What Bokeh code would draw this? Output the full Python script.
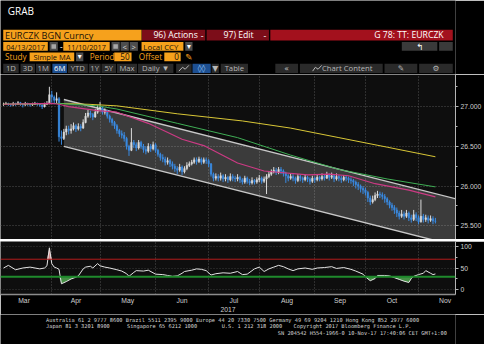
import pandas as pd
from bokeh.plotting import figure
from bokeh.layouts import column
from bokeh.models import (Range1d, FixedTicker, Label, Span, ColumnDataSource,
                          PrintfTickFormatter, Grid)
from bokeh.core.properties import value
from bokeh.embed import file_html
from bokeh.resources import INLINE

# ---------------- data ----------------
dates = pd.bdate_range("2017-03-06", "2017-11-10")   # daily (weekday) bars
first_open = 27.03
close = [27.03, 27.04, 27.03, 27.02, 27.04, 27.03, 27.05, 27.03, 27.02, 27.04,
         27.03, 27.02, 27.03, 27.04, 27.03, 27.02, 27.00, 27.03, 27.04, 27.15,
         27.12, 27.08, 27.10, 26.62, 26.60, 26.68, 26.72, 26.70, 26.72, 26.76,
         26.72, 26.75, 26.73, 26.80, 26.88, 26.92, 26.90, 26.87, 26.93, 26.97,
         26.99, 26.93, 26.95, 26.88, 26.84, 26.80, 26.76, 26.70, 26.66, 26.64,
         26.60, 26.50, 26.45, 26.55, 26.52, 26.48, 26.55, 26.50, 26.46, 26.44,
         26.50, 26.47, 26.52, 26.45, 26.40, 26.36, 26.34, 26.30, 26.32, 26.28,
         26.25, 26.22, 26.20, 26.24, 26.18, 26.22, 26.26, 26.28, 26.30, 26.33,
         26.31, 26.34, 26.30, 26.33, 26.32, 26.28, 26.15, 26.10, 26.12, 26.10,
         26.13, 26.09, 26.11, 26.08, 26.12, 26.10, 26.09, 26.11, 26.08, 26.05,
         26.10, 26.06, 26.04, 26.07, 26.05, 26.08, 26.10, 26.06, 26.09, 26.12,
         26.15, 26.18, 26.20, 26.17, 26.21, 26.19, 26.16, 26.13, 26.10, 26.12,
         26.10, 26.07, 26.12, 26.10, 26.08, 26.11, 26.09, 26.06, 26.10, 26.08,
         26.11, 26.09, 26.12, 26.10, 26.14, 26.11, 26.13, 26.09, 26.12, 26.10,
         26.08, 26.11, 26.10, 26.08, 26.07, 26.05, 26.02, 26.00, 25.97, 25.95,
         25.92, 25.85, 25.80, 25.83, 25.88, 25.90, 25.89, 25.87, 25.84, 25.80,
         25.76, 25.73, 25.70, 25.66, 25.62, 25.65, 25.62, 25.66, 25.60, 25.58,
         25.64, 25.60, 25.55, 25.62, 25.58, 25.60, 25.57, 25.59, 25.56, 25.557]
high = [27.05, 27.06, 27.05, 27.04, 27.06, 27.05, 27.07, 27.06, 27.04, 27.06,
        27.05, 27.04, 27.05, 27.06, 27.05, 27.04, 27.03, 27.05, 27.07, 27.25,
        27.20, 27.14, 27.18, 27.12, 26.70, 26.72, 26.76, 26.76, 26.78, 26.80,
        26.78, 26.79, 26.78, 26.84, 26.92, 26.96, 26.95, 26.92, 26.97, 27.02,
        27.06, 27.00, 26.98, 26.96, 26.90, 26.86, 26.82, 26.78, 26.72, 26.70,
        26.68, 26.62, 26.52, 26.73, 26.58, 26.55, 26.58, 26.57, 26.53, 26.50,
        26.54, 26.53, 26.56, 26.54, 26.47, 26.42, 26.40, 26.37, 26.36, 26.34,
        26.31, 26.28, 26.25, 26.28, 26.26, 26.25, 26.30, 26.31, 26.33, 26.36,
        26.36, 26.37, 26.36, 26.36, 26.36, 26.34, 26.29, 26.17, 26.16, 26.15,
        26.17, 26.15, 26.15, 26.13, 26.16, 26.15, 26.13, 26.15, 26.13, 26.10,
        26.13, 26.12, 26.09, 26.11, 26.09, 26.11, 26.14, 26.12, 26.12, 26.15,
        26.19, 26.21, 26.24, 26.23, 26.24, 26.24, 26.21, 26.18, 26.15, 26.16,
        26.15, 26.12, 26.15, 26.14, 26.12, 26.14, 26.13, 26.11, 26.13, 26.12,
        26.15, 26.13, 26.16, 26.14, 26.18, 26.16, 26.17, 26.14, 26.16, 26.14,
        26.13, 26.14, 26.14, 26.12, 26.11, 26.09, 26.07, 26.05, 26.02, 26.00,
        25.98, 25.94, 25.88, 25.88, 25.92, 25.94, 25.93, 25.92, 25.90, 25.86,
        25.82, 25.79, 25.76, 25.73, 25.69, 25.70, 25.68, 25.70, 25.68, 25.64,
        25.70, 25.67, 25.63, 25.83, 25.65, 25.64, 25.63, 25.63, 25.62, 25.60]
low = [27.01, 27.02, 27.01, 27.00, 27.01, 27.01, 27.02, 27.01, 26.99, 27.01,
       27.01, 27.00, 27.01, 27.02, 27.01, 27.00, 26.97, 26.99, 27.02, 27.03,
       27.05, 27.03, 27.04, 26.56, 26.52, 26.58, 26.64, 26.65, 26.66, 26.70,
       26.68, 26.70, 26.69, 26.72, 26.79, 26.86, 26.86, 26.83, 26.86, 26.91,
       26.94, 26.90, 26.90, 26.85, 26.80, 26.76, 26.72, 26.66, 26.62, 26.60,
       26.56, 26.46, 26.38, 26.44, 26.48, 26.44, 26.46, 26.47, 26.42, 26.40,
       26.42, 26.43, 26.45, 26.42, 26.37, 26.32, 26.30, 26.26, 26.27, 26.24,
       26.21, 26.18, 26.15, 26.18, 26.14, 26.16, 26.20, 26.24, 26.26, 26.28,
       26.27, 26.29, 26.27, 26.28, 26.28, 26.24, 26.12, 26.06, 26.07, 26.06,
       26.07, 26.05, 26.06, 26.04, 26.06, 26.06, 26.05, 26.06, 26.04, 26.02,
       26.03, 26.03, 26.01, 26.02, 26.02, 26.03, 26.05, 26.03, 26.04, 25.90,
       26.10, 26.13, 26.16, 26.14, 26.15, 26.15, 26.12, 26.04, 26.06, 26.08,
       26.06, 26.03, 26.05, 26.06, 26.04, 26.06, 26.05, 26.02, 26.04, 26.04,
       26.06, 26.06, 26.07, 26.07, 26.09, 26.07, 26.09, 26.05, 26.07, 26.06,
       26.04, 26.06, 26.06, 26.04, 26.03, 26.00, 25.97, 25.95, 25.92, 25.90,
       25.88, 25.80, 25.76, 25.78, 25.81, 25.85, 25.85, 25.83, 25.79, 25.76,
       25.72, 25.69, 25.65, 25.61, 25.58, 25.60, 25.58, 25.60, 25.56, 25.54,
       25.56, 25.56, 25.52, 25.54, 25.54, 25.55, 25.53, 25.55, 25.52, 25.53]

# moving averages (bar index, value)
ma200_x = [0, 23, 35, 47, 72, 99, 119, 139, 159, 179]
ma200_y = [27.03, 27.04, 27.03, 27.01, 26.91, 26.82, 26.73, 26.61, 26.49, 26.369]
ma100_x = [0, 23, 39, 47, 72, 97, 119, 139, 159, 179]
ma100_y = [27.03, 27.04, 27.01, 26.97, 26.79, 26.61, 26.39, 26.21, 26.09, 25.990]
ma50_x = [0, 20, 23, 27, 39, 47, 60, 74, 83, 97, 108, 126, 135, 143, 154, 168, 179]
ma50_y = [27.03, 27.04, 27.03, 27.00, 26.95, 26.93, 26.79, 26.59, 26.51, 26.29,
          26.19, 26.14, 26.15, 26.13, 26.03, 25.95, 25.865]

# trend channel (bar index, upper, lower)
chan_x = [25, 190]
chan_up = [27.09, 25.82]
chan_lo = [26.50, 25.23]

# RSI (bar index, value)
rsi_x = [0, 2, 5, 8, 11, 15, 17, 18, 19, 20,
         21, 22, 23, 24, 26, 28, 30, 31, 33, 34,
         36, 37, 39, 40, 42, 44, 47, 49, 51, 52,
         54, 55, 58, 60, 63, 66, 68, 70, 72, 74,
         75, 78, 80, 82, 84, 86, 88, 91, 94, 97,
         99, 101, 104, 106, 108, 110, 112, 114, 116, 118,
         120, 122, 125, 128, 130, 133, 136, 138, 141, 144,
         146, 149, 150, 152, 154, 155, 158, 160, 162, 164,
         166, 168, 169, 170, 172, 174, 175, 177, 178, 179]
rsi_y = [50, 56, 46, 50, 52, 48, 50, 55, 96, 60,
         52, 50, 47, 14, 19, 25, 29, 32, 48, 52,
         54, 50, 60, 55, 52, 50, 46, 43, 37, 31,
         40, 44, 43, 45, 36, 35, 33, 31, 32, 38,
         42, 45, 48, 47, 44, 34, 37, 39, 38, 42,
         35, 36, 48, 52, 42, 48, 52, 56, 53, 48,
         44, 48, 50, 47, 50, 51, 53, 49, 51, 47,
         43, 36, 30, 21, 26, 33, 33, 32, 28, 24,
         20, 17, 26, 31, 35, 38, 44, 38, 35, 36.4303]

price_ticks = [25.5, 26.0, 26.5, 27.0]
price_minor = [25.25, 25.75, 26.25, 26.75, 27.25]
rsi_ticks = [0, 50, 100]

# ---------------- derived ----------------
idx = list(range(len(dates)))
opens = [first_open] + close[:-1]
UP, DOWN = "#dadada", "#3a8be2"
colors = [UP if c >= o else DOWN for o, c in zip(opens, close)]
src = ColumnDataSource(dict(x=idx, top=[max(o, c) for o, c in zip(opens, close)],
                            bottom=[min(o, c) for o, c in zip(opens, close)],
                            high=high, low=low, color=colors))

cal = pd.bdate_range("2017-03-01", "2017-12-01")
off = list(cal).index(dates[0])
mstarts = [i - off for i, d in enumerate(cal) if i == 0 or d.month != cal[i - 1].month]
mnames = [cal[m + off].strftime("%b") for m in mstarts[:-1]]
mlabel_pos = [(a + b) / 2 for a, b in zip(mstarts[:-1], mstarts[1:])]
mgrid_pos = mstarts[1:-1]

ORANGE = "#f6a11c"
DARKTXT = "#1a1208"
FONT = "Open Sans"
AXFONT = "Liberation Sans"
PLOTBG = "#0e0e0e"
GRIDC = "#505050"
RB = 29  # right border (axis strip)

xr = Range1d(-1.26, 187.33)


def blank(h, y0, y1, bg="#000000"):
    f = figure(width=484, height=h, x_range=Range1d(0, 500), y_range=Range1d(y1, y0),
               toolbar_location=None, output_backend="svg", min_border=0,
               x_axis_type=None, y_axis_type=None)
    f.background_fill_color = bg
    f.border_fill_color = bg
    f.outline_line_color = None
    return f


def txt(f, x, y, s, color, size, align="left", font=FONT):
    f.text(x=[x], y=[y], text=[s], text_color=color, text_font_size=size,
           text_align=align, text_baseline="middle", text_font=value(font))


# ---------------- header ----------------
hdr = blank(74, 0, 77)
R1, R2, R3, R4 = (30.5, 41.7), (43.3, 52.3), (54.0, 63.3), (65.7, 75.5)
GB = "#4d4d4d"
boxes = [
    (3, 155, R1, ORANGE), (155.5, 225, R1, "#7c0d19"), (226.5, 295, R1, "#7c0d19"),
    (296.5, 497, R1, "#a3111d"),
    (3, 52, R2, ORANGE), (54, 63, R2, GB), (69, 120, R2, ORANGE), (122, 131, R2, GB),
    (132, 141, R2, GB), (142, 151, R2, GB), (155, 201, R2, ORANGE), (203, 211, R2, GB),
    (441, 480, R2, "#3a3a3a"), (482, 497, R2, "#3a3a3a"),
    (32, 81, R3, ORANGE), (83, 91, R3, GB), (125, 144, R3, ORANGE), (180, 198, R3, ORANGE),
    (56, 61, (45.5, 50.3), "#a8a8a8"), (124, 129, (45.5, 50.3), "#a8a8a8"),
]
buttons = [("1D", 3, 20), ("3D", 22, 38), ("1M", 39, 55), ("6M", 57, 73), ("YTD", 74, 96),
           ("1Y", 97, 110), ("5Y", 111, 127), ("Max", 128, 150), ("Daily ▼", 151, 190),
           ("", 193, 210), ("◊◊", 211, 231), ("▼", 232, 240), ("Table", 242, 272),
           ("«", 302, 327), ("Chart Content", 329, 420), ("✎", 422, 458), ("⚙", 460, 497)]
for lab, l, r in buttons:
    col = "#1d4f91" if lab in ("6M", "◊◊") else "#2a2a2a"
    boxes.append((l, r, R4, col))
hdr.quad(left=[b[0] for b in boxes], right=[b[1] for b in boxes],
         top=[b[2][0] for b in boxes], bottom=[b[2][1] for b in boxes],
         fill_color=[b[3] for b in boxes], line_color=None)

txt(hdr, 8, 10.5, "GRAB", "#ffffff", "10px")
y1, y2, y3, y4 = 36.2, 47.9, 58.7, 70.7
txt(hdr, 5, y1, "EURCZK BGN Curncy", DARKTXT, "9.2px")
txt(hdr, 168, y1, "96) Actions", "#ffffff", "8.7px")
txt(hdr, 220, y1, "-", "#ffffff", "8.7px")
txt(hdr, 245, y1, "97) Edit", "#ffffff", "8.7px")
txt(hdr, 289, y1, "-", "#ffffff", "8.7px")
txt(hdr, 487, y1, "G 78: TT: EURCZK", "#ffffff", "8.7px", "right")
txt(hdr, 27.5, y2, "04/13/2017", DARKTXT, "7.3px", "center")
txt(hdr, 65.5, y2, "-", "#ffffff", "8.2px")
txt(hdr, 94.5, y2, "11/10/2017", DARKTXT, "7.3px", "center")
txt(hdr, 136.5, y2, "<", "#dddddd", "7.7px", "center")
txt(hdr, 146.5, y2, ">", "#dddddd", "7.7px", "center")
txt(hdr, 157, y2, "Local CCY", DARKTXT, "7.8px")
txt(hdr, 207, y2, "▾", "#ffffff", "7.7px", "center", "DejaVu Sans")
txt(hdr, 460.5, y2, "↰", "#ffffff", "8.7px", "center", "DejaVu Sans")
txt(hdr, 5, y3, "Study", ORANGE, "8.2px")
txt(hdr, 56.5, y3, "Simple MA", DARKTXT, "7.5px", "center")
txt(hdr, 87, y3, "▾", "#ffffff", "7.7px", "center", "DejaVu Sans")
txt(hdr, 98, y3, "Period", ORANGE, "8.2px")
txt(hdr, 142, y3, "50", DARKTXT, "8.2px", "right")
txt(hdr, 152, y3, "Offset", ORANGE, "8.2px")
txt(hdr, 196, y3, "0", DARKTXT, "8.2px", "right")
txt(hdr, 207, y3, "✎", ORANGE, "8.7px", "center", "DejaVu Sans")
for lab, l, r in buttons:
    if not lab:
        continue
    c = "#ffffff" if lab == "6M" else ("#9ccfff" if lab == "◊◊" else "#b8b8b8")
    xc = (l + r) / 2
    if lab == "Chart Content":
        xc = 381
    fnt = "DejaVu Sans" if lab in ("◊◊", "▼", "«", "✎", "⚙") else FONT
    txt(hdr, xc, y4, lab, c, "7.7px", "center", fnt)
hdr.line([196, 200, 203, 207], [73.5, 69.5, 71.5, 67.5], line_color="#b8b8b8", line_width=1)
hdr.line([343, 346, 349, 353], [73.5, 69.5, 71.5, 67.5], line_color="#b8b8b8", line_width=1)

# ---------------- main price panel ----------------
pm = figure(width=484, height=165, x_range=xr, y_range=Range1d(25.3277, 27.4046),
            x_axis_type=None, y_axis_location="right", toolbar_location=None,
            output_backend="svg", min_border_left=0, min_border_right=RB,
            min_border_top=0, min_border_bottom=0)
pm.background_fill_color = PLOTBG
pm.border_fill_color = "#000000"
pm.outline_line_color = None
pm.add_layout(Grid(dimension=0, ticker=FixedTicker(ticks=mgrid_pos),
                   grid_line_color=GRIDC, grid_line_dash="1 2"))
ya = pm.yaxis[0]
ya.ticker = FixedTicker(ticks=price_ticks, minor_ticks=price_minor)
ya.formatter = PrintfTickFormatter(format="%.3f")
ya.axis_line_color = "#b4b4b4"
ya.major_tick_line_color = "#b4b4b4"
ya.minor_tick_line_color = "#b4b4b4"
ya.major_tick_in, ya.major_tick_out = 0, 3
ya.minor_tick_in, ya.minor_tick_out = 0, 2
ya.major_label_text_color = "#cfcfcf"
ya.major_label_text_font = AXFONT
ya.major_label_text_font_size = "6.8px"
ya.major_label_standoff = 2
pm.ygrid.grid_line_color = GRIDC
pm.ygrid.grid_line_dash = "1 2"

pm.patch(chan_x + chan_x[::-1], chan_up + chan_lo[::-1], fill_color="#ffffff",
         fill_alpha=0.19, line_color=None)
pm.line(chan_x, chan_up, line_color="#c8c8c8", line_width=1.4)
pm.line(chan_x, chan_lo, line_color="#c8c8c8", line_width=1.4)
pm.segment(x0="x", y0="low", x1="x", y1="high", line_color="color", line_width=1, source=src)
pm.vbar(x="x", width=0.62, top="top", bottom="bottom", fill_color="color",
        line_color="color", line_width=0.5, source=src)
pm.line(ma200_x, ma200_y, line_color="#d9c736", line_width=1)
pm.line(ma100_x, ma100_y, line_color="#3fae55", line_width=1)
pm.line(ma50_x, ma50_y, line_color="#cc3a84", line_width=1.2)

LX = 188.2
for val, s, bg, fg in [(26.369, "26.369", "#f2e332", "#000000"),
                       (25.990, "25.990", "#5ee06a", "#000000"),
                       (25.865, "25.865", "#e0189a", "#ffffff"),
                       (25.557, "25.557", "#f2f2f2", "#000000")]:
    pm.add_layout(Label(x=LX, y=val, text=s, text_font=AXFONT, text_font_size="6.8px",
                        text_color=fg, text_baseline="middle", background_fill_color=bg,
                        padding=1))

# ---------------- separator ----------------
sep = blank(2, 250, 252, bg="#a6a6a6")

# ---------------- RSI panel ----------------
pr = figure(width=484, height=73, x_range=xr, y_range=Range1d(-10.4, 110.4),
            y_axis_location="right", toolbar_location=None, output_backend="svg",
            min_border_left=0, min_border_right=RB, min_border_top=0, min_border_bottom=0)
pr.background_fill_color = PLOTBG
pr.border_fill_color = "#000000"
pr.outline_line_color = None
xa = pr.xaxis[0]
xa.ticker = FixedTicker(ticks=mlabel_pos)
xa.major_label_overrides = {p: n for p, n in zip(mlabel_pos, mnames)}
xa.major_tick_in, xa.major_tick_out = 0, 0
xa.minor_tick_line_color = None
xa.axis_line_color = "#8c8c8c"
xa.axis_line_width = 1.5
xa.major_label_text_color = "#cfcfcf"
xa.major_label_text_font = AXFONT
xa.major_label_text_font_size = "6.8px"
xa.major_label_standoff = 2
xa.axis_label = "2017"
xa.axis_label_text_color = "#cfcfcf"
xa.axis_label_text_font = AXFONT
xa.axis_label_text_font_size = "6.8px"
xa.axis_label_text_font_style = "normal"
xa.axis_label_standoff = 0
ra = pr.yaxis[0]
ra.ticker = FixedTicker(ticks=rsi_ticks, minor_ticks=[25, 75])
ra.axis_line_color = "#b4b4b4"
ra.major_tick_line_color = "#b4b4b4"
ra.minor_tick_line_color = "#b4b4b4"
ra.major_tick_in, ra.major_tick_out = 0, 3
ra.minor_tick_in, ra.minor_tick_out = 0, 2
ra.major_label_text_color = "#cfcfcf"
ra.major_label_text_font = AXFONT
ra.major_label_text_font_size = "6.8px"
ra.major_label_standoff = 2
pr.xgrid.ticker = FixedTicker(ticks=mgrid_pos)
pr.xgrid.grid_line_color = GRIDC
pr.xgrid.grid_line_dash = "1 2"
pr.ygrid.grid_line_color = "#3a3a3a"
pr.ygrid.grid_line_dash = "1 2"

pr.varea(x=rsi_x, y1=[70] * len(rsi_x), y2=[max(v, 70) for v in rsi_y],
         fill_color="#e79a9a", fill_alpha=0.9)
pr.varea(x=rsi_x, y1=[min(v, 30) for v in rsi_y], y2=[30] * len(rsi_x),
         fill_color="#4b9d4b", fill_alpha=0.9)
pr.add_layout(Span(location=70, dimension="width", line_color="#b51d1d", line_width=1))
pr.add_layout(Span(location=30, dimension="width", line_color="#1f8a2c", line_width=2))
pr.line(rsi_x, rsi_y, line_color="#e4e4e4", line_width=1)
pr.add_layout(Label(x=LX, y=rsi_y[-1], text="36.4303", text_font=AXFONT,
                    text_font_size="6.8px", text_color="#ffffff", text_baseline="middle",
                    background_fill_color="#000000", border_line_color="#d0d0d0",
                    padding=1))

# ---------------- footer ----------------
ft = blank(30, 328, 360)
MONO = "DejaVu Sans Mono"
FC = "#d6d6d6"
FS = "5.3px"
txt(ft, 50, 333.5, "Australia 61 2 9777 8600 Brazil 5511 2395 9000 Europe 44 20 7330 7500 "
    "Germany 49 69 9204 1210 Hong Kong 852 2977 6000", FC, FS, font=MONO)
txt(ft, 50, 340.5, "Japan 81 3 3201 8900", FC, FS, font=MONO)
txt(ft, 139, 340.5, "Singapore 65 6212 1000", FC, FS, font=MONO)
txt(ft, 243, 340.5, "U.S. 1 212 318 2000", FC, FS, font=MONO)
txt(ft, 322, 340.5, "Copyright 2017 Bloomberg Finance L.P.", FC, FS, font=MONO)
txt(ft, 494, 347.5, "SN 204542 H554-1966-0 10-Nov-17 17:40:06 CET  GMT+1:00", FC,
    FS, "right", font=MONO)

layout = column(hdr, pm, sep, pr, ft, spacing=0)
open("out.html", "w").write(file_html(layout, INLINE))
